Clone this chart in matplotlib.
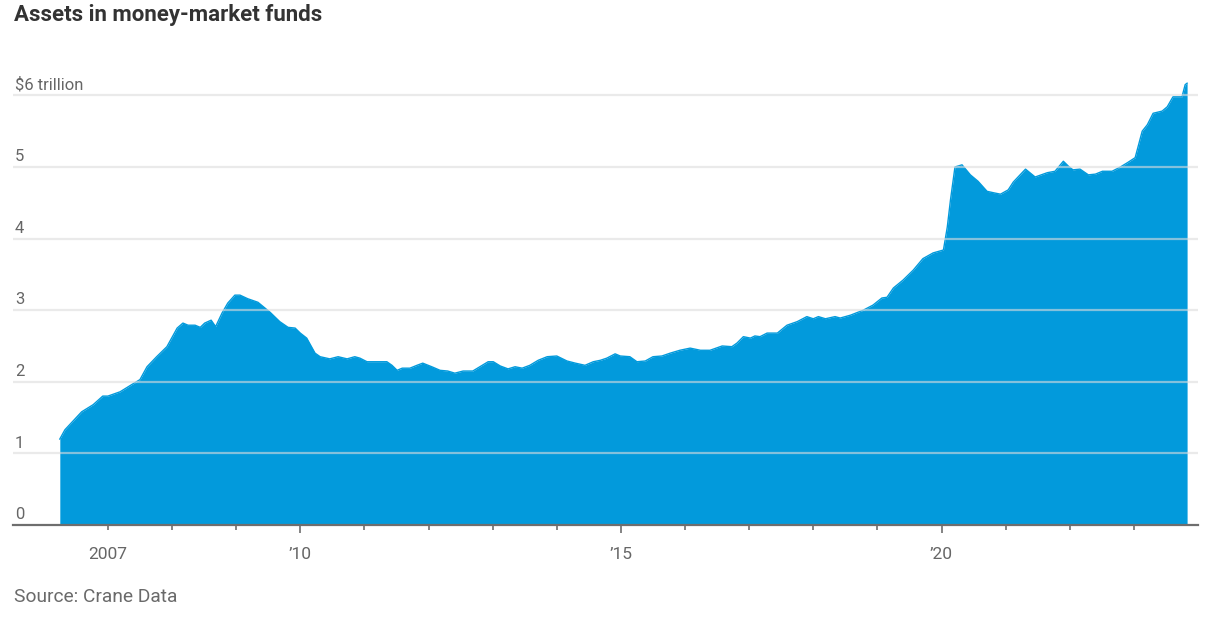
import matplotlib
matplotlib.use("Agg")
import matplotlib.pyplot as plt
from matplotlib import font_manager
from matplotlib.ticker import FixedLocator
import matplotlib.transforms as mtransforms

# ---- data (decimal year, $ trillion) ----
years = [2006.25, 2006.33, 2006.59, 2006.77, 2006.92, 2007.00, 2007.19, 2007.37, 2007.50, 2007.61,
         2007.76, 2007.92, 2008.08, 2008.17, 2008.25, 2008.36, 2008.44, 2008.51, 2008.61, 2008.68,
         2008.78, 2008.87, 2008.98, 2009.06, 2009.18, 2009.34, 2009.53, 2009.68, 2009.81, 2009.92,
         2010.00, 2010.10, 2010.23, 2010.31, 2010.46, 2010.59, 2010.73, 2010.85, 2010.93, 2011.04,
         2011.35, 2011.43, 2011.51, 2011.59, 2011.71, 2011.82, 2011.91, 2012.05, 2012.18, 2012.30,
         2012.41, 2012.54, 2012.69, 2012.80, 2012.93, 2013.01, 2013.12, 2013.24, 2013.35, 2013.46,
         2013.58, 2013.71, 2013.85, 2014.00, 2014.16, 2014.29, 2014.44, 2014.57, 2014.68, 2014.78,
         2014.91, 2014.99, 2015.14, 2015.25, 2015.38, 2015.50, 2015.64, 2015.77, 2015.92, 2016.08,
         2016.24, 2016.39, 2016.58, 2016.73, 2016.81, 2016.91, 2017.02, 2017.09, 2017.17, 2017.28,
         2017.44, 2017.59, 2017.75, 2017.90, 2018.00, 2018.08, 2018.19, 2018.34, 2018.42, 2018.58,
         2018.78, 2018.93, 2019.07, 2019.15, 2019.25, 2019.40, 2019.56, 2019.71, 2019.87, 2020.03,
         2020.09, 2020.14, 2020.21, 2020.32, 2020.45, 2020.57, 2020.71, 2020.81, 2020.92, 2021.04,
         2021.12, 2021.31, 2021.46, 2021.65, 2021.77, 2021.90, 2021.98, 2022.05, 2022.16, 2022.29,
         2022.40, 2022.51, 2022.66, 2022.79, 2022.90, 2023.02, 2023.13, 2023.21, 2023.30, 2023.44,
         2023.52, 2023.61, 2023.69, 2023.75, 2023.80, 2023.83]
assets = [1.20, 1.33, 1.58, 1.68, 1.80, 1.80, 1.86, 1.96, 2.03, 2.21,
          2.35, 2.49, 2.75, 2.82, 2.79, 2.79, 2.76, 2.82, 2.86, 2.77,
          2.96, 3.10, 3.21, 3.21, 3.16, 3.11, 2.97, 2.84, 2.76, 2.75,
          2.68, 2.61, 2.40, 2.35, 2.32, 2.35, 2.32, 2.35, 2.33, 2.28,
          2.28, 2.23, 2.16, 2.19, 2.19, 2.23, 2.26, 2.21, 2.16, 2.15,
          2.12, 2.15, 2.15, 2.21, 2.28, 2.28, 2.22, 2.18, 2.21, 2.19,
          2.23, 2.30, 2.35, 2.36, 2.29, 2.26, 2.23, 2.28, 2.30, 2.33,
          2.39, 2.36, 2.35, 2.28, 2.29, 2.35, 2.36, 2.40, 2.44, 2.47,
          2.44, 2.44, 2.50, 2.49, 2.54, 2.63, 2.61, 2.64, 2.63, 2.68,
          2.68, 2.79, 2.84, 2.91, 2.88, 2.91, 2.88, 2.91, 2.89, 2.93,
          3.00, 3.07, 3.17, 3.18, 3.31, 3.42, 3.56, 3.72, 3.80, 3.84,
          4.16, 4.54, 5.00, 5.03, 4.89, 4.80, 4.66, 4.64, 4.62, 4.68,
          4.79, 4.97, 4.86, 4.92, 4.94, 5.08, 5.01, 4.96, 4.97, 4.89,
          4.90, 4.94, 4.94, 5.00, 5.06, 5.13, 5.50, 5.59, 5.75, 5.78,
          5.84, 5.98, 5.98, 5.98, 6.15, 6.17]

y_ticks = [0, 1, 2, 3, 4, 5, 6]
y_labels = ["0", "1", "2", "3", "4", "5", "$6 trillion"]
x_major = [2010, 2015, 2020]
x_major_labels = ["\u201910", "\u201915", "\u201920"]
x_minor = list(range(2007, 2024))
first_label_year = 2007

title = "Assets in money-market funds"
source = "Source: Crane Data"

# ---- fonts ----
avail = {f.name for f in font_manager.fontManager.ttflist}
fam = "Liberation Sans Narrow" if "Liberation Sans Narrow" in avail else "Roboto"
plt.rcParams["font.family"] = [fam, "DejaVu Sans"]

FILL = "#029adc"
TXT = "#666666"

fig = plt.figure(figsize=(12.05, 6.19), dpi=100)
ax = fig.add_axes([13 / 1205, 0.1519, (1198 - 13) / 1205, 6.3 * 71.6 / 619])

ax.fill_between(years, assets, 0, color=FILL, linewidth=0, zorder=2)
ax.plot(years, assets, color=FILL, lw=1.0, zorder=2)

ax.set_xlim(2005.52, 2024.0)
ax.set_ylim(0, 6.3)

# gridlines on top of the fill
for v in y_ticks[1:]:
    ax.axhline(v, color="#dcdcdc", lw=1.6, alpha=0.6, zorder=3)

# y labels inside the plot, above gridlines
trans = mtransforms.blended_transform_factory(ax.transAxes, ax.transData)
for v, lab in zip(y_ticks, y_labels):
    ax.annotate(lab, xy=(0, v), xycoords=trans, xytext=(1.5, 2), textcoords="offset points",
                ha="left", va="bottom", fontsize=12, color=TXT)
ax.set_yticks([])

for s in ["top", "right", "left"]:
    ax.spines[s].set_visible(False)
ax.spines["bottom"].set_color("#6e6e6e")
ax.spines["bottom"].set_linewidth(1.6)
ax.spines["bottom"].set_zorder(4)

ax.xaxis.set_major_locator(FixedLocator(x_major))
ax.set_xticklabels(x_major_labels)
ax.xaxis.set_minor_locator(FixedLocator(x_minor))
ax.xaxis.set_minor_formatter(
    matplotlib.ticker.FuncFormatter(lambda v, p: str(first_label_year) if abs(v - first_label_year) < 0.01 else ""))
ax.tick_params(axis="x", which="major", length=6, width=1.2, color="#6e6e6e",
               labelsize=12.5, labelcolor=TXT, pad=10)
ax.tick_params(axis="x", which="minor", length=3.5, width=1.2, color="#6e6e6e",
               labelsize=12.5, labelcolor=TXT, pad=12.5)

fig.text(14 / 1205, 1 - 15 / 619, title, fontsize=16, fontweight="bold", color="#333333",
         ha="left", va="center")
fig.text(14 / 1205, 1 - 597 / 619, source, fontsize=13.8, color="#6a6a6a", ha="left", va="center")

fig.savefig("out.png", dpi=100, facecolor="white")
